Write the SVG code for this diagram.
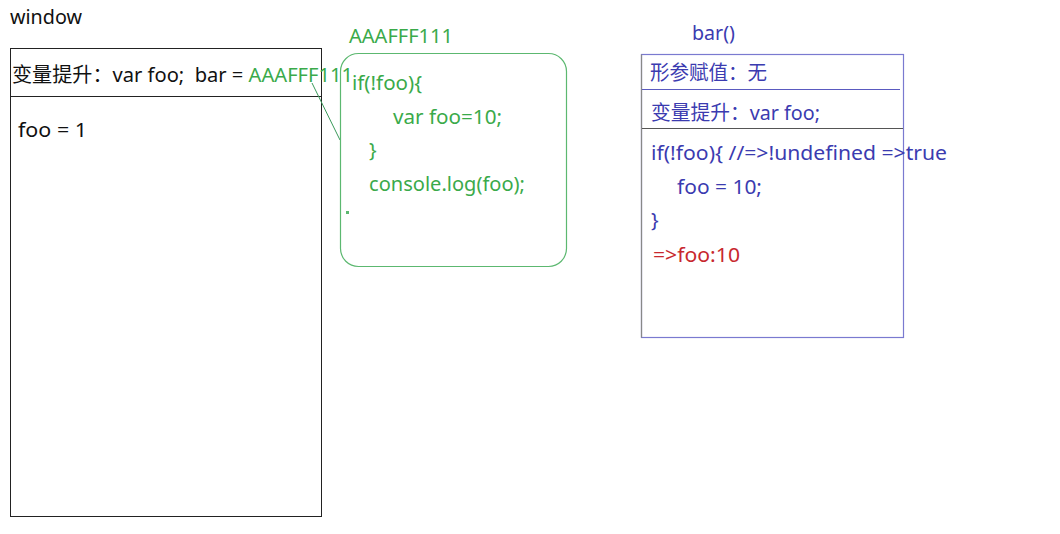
<svg xmlns="http://www.w3.org/2000/svg" width="1060" height="534" viewBox="0 0 1060 534">
<style>
text{font-family:"Noto Sans","Noto Sans CJK SC",sans-serif;font-size:20px;white-space:pre}
.k{fill:#111}
.g{fill:#3aaa4a}
.b{fill:#3b3bb0}
.r{fill:#c8282e}
</style>
<rect x="0" y="0" width="1060" height="534" fill="#fff"/>
<g id="window">
<text class="k" x="10" y="24" textLength="72" lengthAdjust="spacingAndGlyphs">window</text>
<rect x="10.5" y="48.5" width="311" height="468" fill="none" stroke="#222" stroke-width="1"/>
<line x1="10.5" y1="96.5" x2="321.5" y2="96.5" stroke="#222"/>
<text x="12" y="82" class="k" textLength="341" lengthAdjust="spacingAndGlyphs" xml:space="preserve">变量提升：var foo;  bar = <tspan class="g">AAAFFF111</tspan></text>
<text class="k" x="18" y="137" textLength="69" lengthAdjust="spacingAndGlyphs">foo = 1</text>
</g>
<g id="connectors">
<line x1="312" y1="83" x2="340" y2="140" stroke="#3a9a5a" stroke-width="1"/>
</g>
<g id="func">
<text class="g" x="349" y="43" textLength="104" lengthAdjust="spacingAndGlyphs">AAAFFF111</text>
<rect x="340.5" y="53.5" width="226" height="213" rx="18" fill="none" stroke="#5cb870" stroke-width="1.2"/>
<text class="g" x="352" y="90" textLength="70" lengthAdjust="spacingAndGlyphs">if(!foo){</text>
<text class="g" x="393" y="124" textLength="109" lengthAdjust="spacingAndGlyphs">var foo=10;</text>
<text class="g" x="369" y="157">}</text>
<text class="g" x="369" y="191" textLength="156" lengthAdjust="spacingAndGlyphs">console.log(foo);</text>
<rect x="346" y="211" width="3" height="3" fill="#5cb870"/>
</g>
<g id="bar">
<text class="b" x="692" y="40" textLength="43" lengthAdjust="spacingAndGlyphs">bar()</text>
<rect x="641.5" y="54.5" width="262" height="283" fill="none" stroke="#7a7ad0" stroke-width="1.2"/>
<line x1="641.5" y1="54.5" x2="641.5" y2="337.5" stroke="#888" stroke-width="1.2"/>
<line x1="642" y1="89.5" x2="900" y2="89.5" stroke="#5a5ac0" stroke-width="1.2"/>
<line x1="642" y1="128.5" x2="903" y2="128.5" stroke="#555" stroke-width="1"/>
<text class="b" x="650" y="80" textLength="117" lengthAdjust="spacingAndGlyphs">形参赋值：无</text>
<text class="b" x="651" y="120" textLength="169" lengthAdjust="spacingAndGlyphs">变量提升：var foo;</text>
<text class="b" x="651" y="160" textLength="296" lengthAdjust="spacingAndGlyphs">if(!foo){ //=>!undefined =>true</text>
<text class="b" x="677" y="194" textLength="85" lengthAdjust="spacingAndGlyphs">foo = 10;</text>
<text class="b" x="651" y="227">}</text>
<text class="r" x="653" y="262" textLength="87" lengthAdjust="spacingAndGlyphs">=>foo:10</text>
</g>
</svg>
